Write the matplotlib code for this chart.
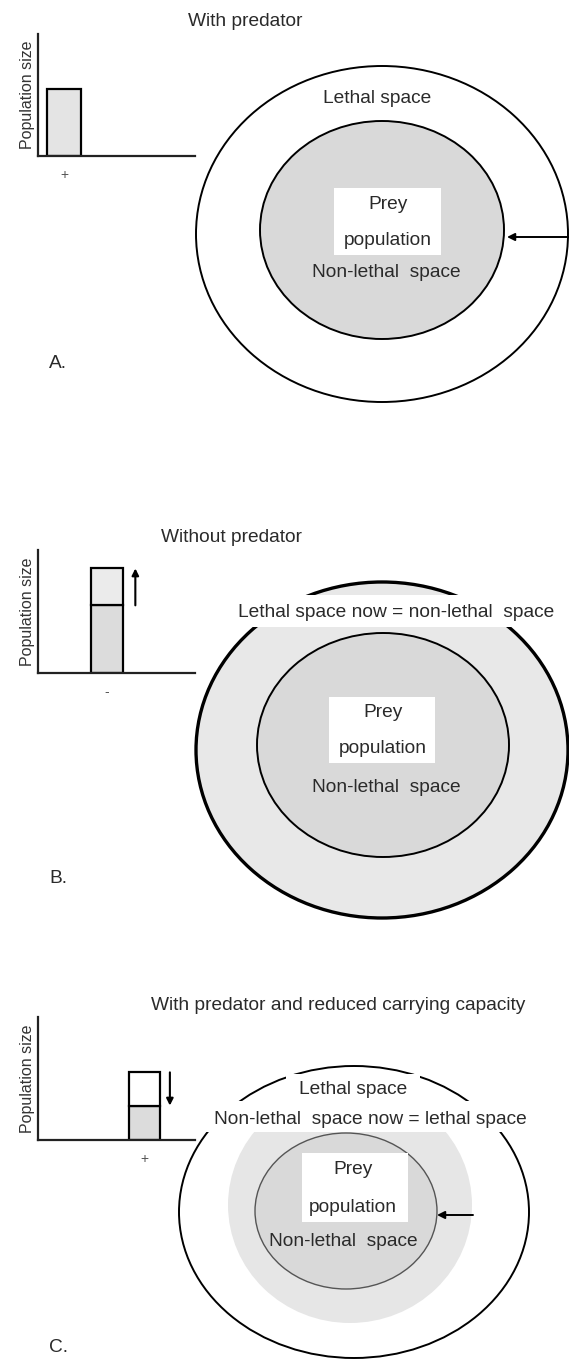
import matplotlib.pyplot as plt
from matplotlib.patches import Ellipse, Rectangle

# ---------------------------------------
# Espacio letal / no letal de una presa
# ---------------------------------------

# Datos (tamaño de población relativo, 0..1)
panel_tags = ["A.", "B.", "C."]
titulos = ["With predator", "Without predator",
           "With predator and reduced carrying capacity"]
pob_antes = [0.55, 0.55, 0.55]
pob_despues = [None, 0.85, 0.28]
etiquetas_tick = ["+", "-", "+"]
pos_barra = [0.166, 0.44, 0.68]
ancho_barra = [0.22, 0.20, 0.20]
pos_flecha = [None, 0.62, 0.84]

W, H = 569, 1361
plt.rcParams['font.family'] = ['Liberation Sans', 'DejaVu Sans']
TXT = '#2a2a2a'
FS = 13.8

fig = plt.figure(figsize=(W / 100, H / 100), dpi=100)
ax = fig.add_axes([0, 0, 1, 1])
ax.set_xlim(0, W)
ax.set_ylim(H, 0)
ax.axis('off')

# -------- graficos de barras --------
ejes_y = [(34, 156), (550, 673), (1017, 1140)]   # pixeles (arriba, abajo)
for i in range(3):
    top, bot = ejes_y[i]
    bx = fig.add_axes([38 / W, 1 - bot / H, 157 / W, (bot - top) / H])
    bx.patch.set_alpha(0)
    bx.set_xlim(0, 1)
    bx.set_ylim(0, 1)
    for s in ['top', 'right']:
        bx.spines[s].set_visible(False)
    for s in ['left', 'bottom']:
        bx.spines[s].set_linewidth(1.6)
        bx.spines[s].set_color('#222')
    x = pos_barra[i]
    w = ancho_barra[i]
    a = pob_antes[i]
    d = pob_despues[i]
    if d is None:
        bx.bar(x, a, width=w, color='#e4e4e4', edgecolor='black', linewidth=1.6)
    elif d > a:
        bx.bar(x, a, width=w, color='#dcdcdc', edgecolor='black', linewidth=1.6)
        bx.bar(x, d - a, bottom=a, width=w, color='#ebebeb',
               edgecolor='black', linewidth=1.6)
    else:
        bx.bar(x, d, width=w, color='#dcdcdc', edgecolor='black', linewidth=1.6)
        bx.bar(x, a - d, bottom=d, width=w, color='white',
               edgecolor='black', linewidth=1.6)
    if d is not None:
        bx.annotate('', xy=(pos_flecha[i], d), xytext=(pos_flecha[i], a),
                    arrowprops=dict(arrowstyle='-|>', color='black', lw=1.5,
                                    mutation_scale=10, shrinkA=0, shrinkB=0),
                    annotation_clip=False)
    bx.set_xticks([x])
    bx.set_xticklabels([etiquetas_tick[i]], fontsize=10, color='#555')
    bx.tick_params(axis='x', length=0, pad=9)
    bx.set_yticks([])
    bx.set_ylabel("Population size", fontsize=11.5, color='#333', labelpad=2)

# -------- diagramas de espacio --------
def elipse(cx, cy, rx, ry, **kw):
    ax.add_patch(Ellipse((cx, cy), 2 * rx, 2 * ry, **kw))

def caja(x0, y0, x1, y1):
    ax.add_patch(Rectangle((x0, y0), x1 - x0, y1 - y0, facecolor='white',
                           edgecolor='none', zorder=5))

def texto(x, y, s, **kw):
    ax.text(x, y, s, ha='center', va='center', fontsize=FS, color=TXT,
            zorder=6, **kw)

# Panel A
texto(245, 21, titulos[0])
elipse(382, 234, 186, 168, facecolor='white', edgecolor='black', lw=1.4)
elipse(382, 230, 122, 109, facecolor='#d9d9d9', edgecolor='black', lw=1.4)
caja(334, 188, 441, 255)
texto(377, 98, "Lethal space")
texto(388, 204, "Prey")
texto(388, 240, "population")
texto(386, 272, "Non-lethal  space")
ax.annotate('', xy=(507, 237), xytext=(572, 237),
            arrowprops=dict(arrowstyle='-|>', color='black', lw=1.4,
                            mutation_scale=11, shrinkA=0, shrinkB=0))
ax.text(49, 363, panel_tags[0], fontsize=FS, color=TXT, va='center')

# Panel B
texto(232, 537, titulos[1])
elipse(382, 750, 186, 168, facecolor='#e8e8e8', edgecolor='black', lw=2.4)
elipse(383, 745, 126, 112, facecolor='#d9d9d9', edgecolor='black', lw=1.4)
caja(224, 595, 566, 627)
caja(329, 697, 435, 763)
texto(396, 612, "Lethal space now = non-lethal  space")
texto(383, 712, "Prey")
texto(383, 748, "population")
texto(386, 787, "Non-lethal  space")
ax.annotate('', xy=(572, 739), xytext=(510, 739),
            arrowprops=dict(arrowstyle='-|>', color='black', lw=1.4,
                            mutation_scale=11, shrinkA=0, shrinkB=0))
ax.text(49, 878, panel_tags[1], fontsize=FS, color=TXT, va='center')

# Panel C
texto(338, 1005, titulos[2])
elipse(354, 1212, 175, 146, facecolor='white', edgecolor='black', lw=1.4)
elipse(350, 1205, 122, 118, facecolor='#e6e6e6', edgecolor='none')
elipse(346, 1211, 91, 78, facecolor='#d9d9d9', edgecolor='#555', lw=1.0)
caja(286, 1074, 420, 1101)
caja(196, 1101, 545, 1132)
caja(302, 1153, 408, 1222)
texto(353, 1089, "Lethal space")
texto(370, 1119, "Non-lethal  space now = lethal space")
texto(353, 1170, "Prey")
texto(353, 1207, "population")
texto(343, 1242, "Non-lethal  space")
ax.annotate('', xy=(437, 1215), xytext=(473, 1215),
            arrowprops=dict(arrowstyle='-|>', color='black', lw=1.4,
                            mutation_scale=11, shrinkA=0, shrinkB=0))
ax.text(49, 1347, panel_tags[2], fontsize=FS, color=TXT, va='center')

fig.savefig('out.png', dpi=100)
